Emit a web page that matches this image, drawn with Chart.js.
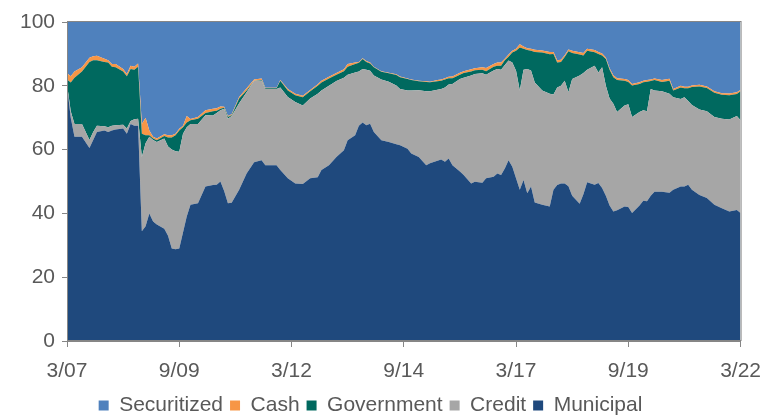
<!DOCTYPE html>
<html>
<head>
<meta charset="utf-8">
<script src="https://cdn.jsdelivr.net/npm/chart.js@4.4.1/dist/chart.umd.min.js"></script>
<style>
    body { margin: 0; background: #fff; }
    .chart-box { position: relative; width: 773px; height: 416px; }
</style>
</head>
<body>
<div class="chart-box"><canvas id="allocationChart"></canvas></div>
<script>
// months since 3/07
const months = [0, 1, 2, 4, 6, 7, 8, 10, 11, 12, 13, 15, 16, 17, 18, 19, 20, 21, 22, 23, 24, 26, 27, 28, 29, 30,
    31, 32, 33, 35, 37, 39, 40, 41, 42, 43, 44, 46, 48, 50, 52, 53, 56, 57, 59, 61, 63, 65, 67, 68, 70, 72, 74, 75,
    77, 78, 79, 80, 81, 82, 84, 86, 88, 89, 91, 92, 94, 96, 97, 99, 100, 101, 102, 103, 105, 106, 108, 109, 111, 112,
    114, 115, 116, 117, 118, 119, 120, 121, 122, 123, 124, 125, 127, 129, 130, 131, 132, 133, 134, 135, 137, 138, 139,
    141, 142, 143, 144, 145, 146, 147, 149, 150, 151, 153, 154, 155, 156, 157, 159, 161, 162, 164, 165, 166, 167, 169,
    171, 173, 175, 177, 179, 180];

const municipal = [80, 70, 64, 64, 60.5, 63, 65.5, 66, 65.5, 66, 66.3, 66.6, 65, 68, 67.5, 67.5, 34.4, 36, 40, 37.5, 36.5, 35.2, 33, 29, 28.8, 29,
    34, 39, 42.7, 43.2, 48.4, 48.9, 49, 50, 47, 43.2, 43.3, 47.4, 52.5, 56, 56.7, 55.1, 55.1, 53.6, 51, 49.4, 49.2, 51, 51.3, 53.6, 55.1, 57.7, 59.8, 62.9,
    64.5, 67.5, 68.5, 67.6, 68.1, 65.5, 62.9, 62.4, 61.7, 61.4, 60.3, 58.8, 57.7, 55.1, 55.7, 56.5, 56.9, 56.2, 57.2, 55.1, 53.1, 52, 49.4, 49.9, 49.6, 51,
    51.5, 52.5, 52, 54.1, 56.7, 54.6, 51, 47.4, 50.5, 46.3, 48.4, 43.4, 42.7, 42.2, 47.4, 48.9, 49.4, 49.4, 48.5, 45.5, 43, 46, 49.8,
    49, 49.5, 48, 45.5, 42.5, 40.6, 41, 42.2, 42, 40.1, 42.5, 44, 43.8, 45.5, 46.8, 46.8, 46.5, 47.4, 48.4, 48.4, 49, 47.4, 45.8,
    44.8, 42.7, 41.6, 40.6, 41.1, 40.1];

const credit = [0.5, 2, 4, 4, 2.5, 2.5, 2, 1.3, 1.5, 1.5, 1.3, 1.2, 1.6, 1, 2, 2.2, 23.3, 26, 24, 25.5, 25.9, 28.3, 28, 31, 30.7, 30.3,
    31, 28, 25.3, 24.8, 22.4, 21.8, 22.5, 22.3, 25.8, 26.5, 27.2, 27.1, 25.5, 25.6, 24.9, 23.9, 23.9, 25.9, 25.5, 25.5, 24.6, 25, 26.2, 24.9, 24.9, 23.8, 22.7, 20.6,
    19.7, 17, 16.8, 17.4, 16.6, 17.7, 19.1, 18.9, 18.4, 17.6, 18.2, 19.7, 20.9, 23.2, 22.6, 22.3, 22.1, 23.3, 23.2, 25.5, 29, 30.5, 33.8, 33.8, 34.3, 32.5,
    33.3, 32.8, 33, 32.4, 31.2, 32.7, 33.7, 31.1, 34.5, 39, 36.4, 37.6, 35.8, 35.3, 29.9, 30.6, 30.6, 32.2, 29.5, 36.6, 40.2, 38, 35.2,
    37.3, 34.7, 37.8, 34.5, 33.5, 33.8, 30.8, 31.6, 32.2, 30.1, 29.3, 28.3, 28.2, 33.5, 31.7, 31.5, 31, 29, 27.5, 28, 26.2, 26.6, 26.8,
    27.2, 27.5, 28.1, 28.8, 29.4, 29.1];

const government = [1.5, 9, 14.5, 16.5, 24.5, 22.5, 20.5, 20.2, 20.3, 18.5, 18.2, 16.7, 16.4, 16.3, 15.5, 16.3, 7.3, 2.5, 0.5, 0.5, 0.5, 0.8, 2.8, 3.8, 5, 6.7,
    2, 1.5, 1.2, 1.7, 0.7, 1.3, 0.7, 0.5, 0.3, 0.5, 0.3, 1.5, 0.5, 0, 0.2, 0.2, 0.2, 2.1, 2, 2.1, 2.6, 2.3, 2.5, 2.5, 2.3, 2, 2.1, 2.5,
    2.6, 2.7, 3.1, 2.5, 2.3, 2.6, 2.4, 2.6, 3.3, 3.7, 3.6, 3.3, 2.8, 2.9, 2.8, 2.6, 2.6, 2.5, 2, 1.8, 1.4, 1.5, 1.3, 1.2, 1.1, 1.1,
    1.2, 1, 1.3, 1.5, 1.2, 3.1, 6.3, 13.5, 6.6, 5.9, 6.2, 9.6, 11.9, 12.4, 12.7, 7.8, 7.5, 7.4, 12.8, 8.2, 6.6, 5.5, 6,
    4.2, 5.8, 3.7, 8.4, 9, 8.3, 10, 7.8, 7, 9.9, 8.8, 8.8, 9.3, 2.5, 3.3, 2.9, 4.1, 2.1, 3.6, 2.8, 4, 5.6, 7.2,
    7.3, 7.6, 7.5, 7.6, 6.9, 9.1];

const cash = [2, 2, 2, 1.3, 1.3, 1.3, 1.4, 1, 0.7, 0.8, 1, 0.8, 0.7, 1, 1, 1, 3, 5.5, 1.5, 0.5, 0.6, 0.5, 0.7, 0.7, 0.5, 0.5,
    0.5, 2, 0.4, 0.5, 0.8, 0.8, 0.8, 0.7, 0.3, 0.3, 0.3, 0.5, 0.7, 0.4, 0.5, 0.2, 0.2, 0.2, 0.5, 0.5, 0.5, 0.4, 0.5, 0.6, 0.5, 0.5, 0.6, 0.8,
    0.5, 0.3, 0.2, 0.3, 0.3, 0.2, 0.2, 0.2, 0.2, 0.2, 0.2, 0.2, 0.2, 0.2, 0.2, 0.4, 0.4, 0.4, 0.4, 0.5, 0.6, 0.6, 0.7, 0.6, 0.8, 1,
    0.8, 1, 1, 0.5, 0.7, 0.6, 0.6, 1, 0.7, 0.6, 0.6, 0.7, 0.7, 0.7, 0.6, 0.7, 0.7, 0.6, 0.6, 0.7, 0.7, 0.8, 0.6,
    0.7, 0.6, 0.6, 0.5, 0.5, 0.6, 0.6, 0.5, 0.6, 0.5, 0.5, 0.5, 0.5, 0.5, 0.5, 0.6, 0.6, 0.5, 0.5, 0.5, 0.5, 0.5, 0.5,
    0.5, 0.5, 0.5, 0.6, 0.6, 0.4];

const securitized = [16, 17, 15.5, 14.2, 11.2, 10.7, 10.6, 11.5, 12, 13.2, 13.2, 14.7, 16.3, 13.7, 14, 13, 32, 30, 34, 36, 36.5, 35.2, 35.5, 35.5, 35, 33.5,
    32.5, 29.5, 30.4, 29.8, 27.7, 27.2, 27, 26.5, 26.6, 29.5, 28.9, 23.5, 20.8, 18, 17.7, 20.6, 20.6, 18.2, 21, 22.5, 23.1, 21.3, 19.5, 18.4, 17.2, 16, 14.8, 13.2,
    12.7, 12.5, 11.4, 12.2, 12.7, 14, 15.4, 15.9, 16.4, 17.1, 17.7, 18, 18.4, 18.6, 18.7, 18.2, 18, 17.6, 17.2, 17.1, 15.9, 15.4, 14.8, 14.5, 14.2, 14.4,
    13.2, 12.7, 12.7, 11.5, 10.2, 9, 8.4, 7, 7.7, 8.2, 8.4, 8.7, 8.9, 9.4, 9.4, 12, 11.8, 10.4, 8.6, 9, 9.5, 9.7, 8.4,
    8.8, 9.4, 9.9, 11.1, 14.5, 16.7, 17.6, 17.9, 18.2, 19.4, 18.9, 18.4, 18.2, 18, 17.7, 18.2, 17.8, 21, 20, 20.3, 20.3, 19.9, 19.7,
    20.2, 21.7, 22.3, 22.4, 22, 21.3];

const tickLabels = ['3/07', '9/09', '3/12', '9/14', '3/17', '9/19', '3/22'];

const axisGray = '#868686';
const textGray = '#595959';
const fontFamily = 'Liberation Sans, Arial, sans-serif';

const toPoints = (values) => values.map((v, i) => ({ x: months[i], y: v }));

const makeSet = (label, values, color, fill) => ({
    label: label,
    data: toPoints(values),
    backgroundColor: color,
    borderColor: color,
    borderWidth: 0,
    pointRadius: 0,
    tension: 0,
    fill: fill,
});

// thin frame round the plot (top + right edges)
const plotFrame = {
    id: 'plotFrame',
    afterDraw(chart) {
        const { ctx, chartArea } = chart;
        ctx.save();
        ctx.strokeStyle = axisGray;
        ctx.lineWidth = 1;
        ctx.strokeRect(chartArea.left + 0.5, chartArea.top - 0.5, chartArea.width, chartArea.height);
        ctx.restore();
    },
};

const config = {
    type: 'line',
    data: {
        datasets: [
            makeSet('Municipal', municipal, '#1F497D', 'origin'),
            makeSet('Credit', credit, '#A6A6A6', '-1'),
            makeSet('Government', government, '#00695F', '-1'),
            makeSet('Cash', cash, '#F79646', '-1'),
            makeSet('Securitized', securitized, '#4F81BD', '-1'),
        ],
    },
    options: {
        responsive: true,
        maintainAspectRatio: false,
        animation: false,
        layout: {
            padding: { top: 22, right: 32, left: 0, bottom: -10 },
        },
        plugins: {
            legend: {
                position: 'bottom',
                reverse: true,
                labels: {
                    boxWidth: 10,
                    boxHeight: 10,
                    padding: 7,
                    color: textGray,
                    font: { family: fontFamily, size: 21 },
                },
            },
            tooltip: { enabled: false },
        },
        scales: {
            x: {
                type: 'linear',
                min: 0,
                max: 180,
                afterFit: (scale) => { scale.height = 47; },
                ticks: {
                    stepSize: 30,
                    padding: 12,
                    color: textGray,
                    font: { family: fontFamily, size: 21 },
                    callback: (value) => tickLabels[value / 30],
                },
                grid: { display: true, drawOnChartArea: false, color: axisGray, tickLength: 6 },
                border: { display: true, color: axisGray },
            },
            y: {
                stacked: true,
                min: 0,
                max: 100,
                afterFit: (scale) => { scale.width = 67; },
                ticks: {
                    stepSize: 20,
                    padding: 7,
                    color: textGray,
                    font: { family: fontFamily, size: 21 },
                },
                grid: { display: true, drawOnChartArea: false, color: axisGray, tickLength: 5 },
                border: { display: true, color: axisGray },
            },
        },
    },
    plugins: [plotFrame],
};

new Chart(document.getElementById('allocationChart'), config);
</script>
</body>
</html>
